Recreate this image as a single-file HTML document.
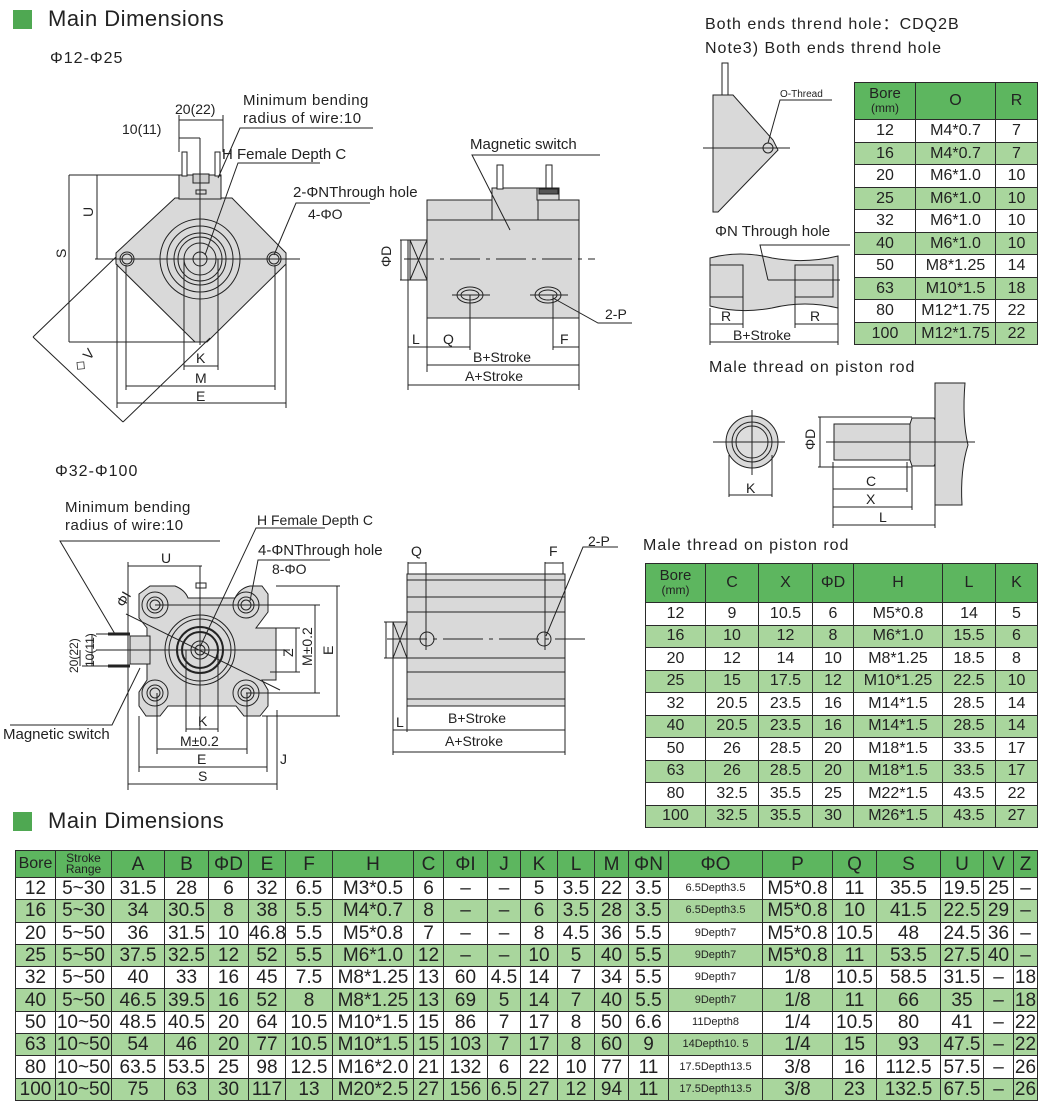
<!DOCTYPE html>
<html><head><meta charset="utf-8">
<style>
*{margin:0;padding:0;box-sizing:border-box}
body{width:1047px;height:1102px;background:#fff;position:relative;overflow:hidden;font-family:"Liberation Sans",sans-serif;color:#222}
.t{position:absolute;white-space:nowrap}
table{position:absolute;border-collapse:collapse;table-layout:fixed}
td{border:1px solid #2a2a2a;text-align:center;padding:0;overflow:hidden;white-space:nowrap;line-height:1}
tr.h td{background:#5db65f}
tr.g td{background:#a9d69d}
.bt td{font-family:"Liberation Sans Narrow","Liberation Sans",sans-serif;font-size:19px;height:22.3px}
.bt tr.h td{height:27px;font-size:19px}
.rt td{font-size:16px}
.sm{font-size:11px!important}
svg{position:absolute;left:0;top:0}
</style></head><body>

<div style="position:absolute;left:13px;top:10px;width:19px;height:19px;background:#4fa852"></div>
<div class="t" style="left:48px;top:6px;font-size:22px;letter-spacing:0.5px">Main Dimensions</div>
<div class="t" style="left:50px;top:50px;font-size:16px;letter-spacing:1px">Φ12-Φ25</div>
<div class="t" style="left:55px;top:463px;font-size:16px;letter-spacing:1px">Φ32-Φ100</div>
<div style="position:absolute;left:13px;top:812px;width:19px;height:19px;background:#4fa852"></div>
<div class="t" style="left:48px;top:808px;font-size:22px;letter-spacing:0.5px">Main Dimensions</div>

<div class="t" style="left:705px;top:10px;font-size:16px;letter-spacing:1px">Both ends thrend hole：CDQ2B</div>
<div class="t" style="left:705px;top:40px;font-size:16px;letter-spacing:1px">Note3) Both ends thrend hole</div>
<div class="t" style="left:709px;top:359px;font-size:16px;letter-spacing:1px">Male thread on piston rod</div>
<div class="t" style="left:643px;top:537px;font-size:16px;letter-spacing:1px">Male thread on piston rod</div>

<svg width="1047" height="850" viewBox="0 0 1047 850" font-family="Liberation Sans, sans-serif" fill="none" stroke="#222" stroke-width="1">
<!-- ===== Top-left front view ===== -->
<polygon points="175,198 232,198 286,253 286,264 207,342 195,342 116,264 116,253" fill="#d9d9d9"/>
<rect x="179" y="175" width="42" height="24" fill="#d9d9d9"/>
<rect x="182" y="152" width="5" height="24" fill="#fff"/>
<rect x="215" y="152" width="5" height="24" fill="#fff"/>
<rect x="193" y="174" width="16" height="9" fill="#ccc"/>
<rect x="196" y="190" width="10" height="4"/>
<circle cx="200" cy="259" r="40"/><circle cx="200" cy="259" r="33"/><circle cx="200" cy="259" r="26"/><circle cx="200" cy="259" r="22"/><circle cx="200" cy="259" r="16"/><circle cx="200" cy="259" r="7"/>
<circle cx="127" cy="259" r="7"/><circle cx="127" cy="259" r="5"/>
<circle cx="274" cy="259" r="7"/><circle cx="274" cy="259" r="5"/>
<line x1="95" y1="259" x2="300" y2="259"/><line x1="200" y1="138" x2="200" y2="345"/>
<!-- dims -->
<line x1="69" y1="175" x2="179" y2="175"/><line x1="69" y1="175" x2="69" y2="342"/><line x1="69" y1="342" x2="200" y2="342"/>
<line x1="97" y1="175" x2="97" y2="259"/>
<line x1="179" y1="115" x2="179" y2="152"/><line x1="223" y1="115" x2="223" y2="152"/>
<line x1="179" y1="120" x2="223" y2="120"/><line x1="179" y1="138" x2="200" y2="138"/>
<line x1="117" y1="264" x2="117" y2="408"/><line x1="286" y1="264" x2="286" y2="408"/>
<line x1="126" y1="265" x2="126" y2="390"/><line x1="275" y1="265" x2="275" y2="390"/>
<line x1="184" y1="259" x2="184" y2="370"/><line x1="218" y1="259" x2="218" y2="370"/>
<line x1="117" y1="403" x2="286" y2="403"/><line x1="126" y1="386" x2="275" y2="386"/><line x1="184" y1="366" x2="218" y2="366"/>
<line x1="33" y1="337" x2="116" y2="257"/><line x1="33" y1="337" x2="123" y2="422"/><line x1="123" y1="422" x2="210" y2="338"/>
<!-- leaders -->
<polyline points="218,178 240,128 373,128"/><polyline points="205,255 238,163 320,163"/><polyline points="274,255 296,203 370,203"/>
<!-- ===== Top side view ===== -->
<rect x="427" y="200" width="152" height="118" fill="#d9d9d9"/>
<line x1="427" y1="220" x2="579" y2="220"/>
<rect x="492" y="188" width="46" height="32" fill="#d9d9d9"/>
<rect x="497" y="165" width="6" height="24" fill="#fff"/>
<rect x="546" y="165" width="6" height="24" fill="#fff"/>
<rect x="537" y="188" width="22" height="12" fill="#d9d9d9"/>
<rect x="539" y="189" width="19" height="5" fill="#555"/>
<rect x="410" y="240" width="17" height="40" fill="#d9d9d9"/>
<line x1="410" y1="240" x2="427" y2="280"/><line x1="427" y1="240" x2="410" y2="280"/>
<line x1="404" y1="259" x2="595" y2="259" stroke-dasharray="30,6,4,6"/>
<ellipse cx="470" cy="295" rx="13" ry="8"/><ellipse cx="470" cy="295" rx="9" ry="5"/>
<ellipse cx="548" cy="295" rx="13" ry="8"/><ellipse cx="548" cy="295" rx="9" ry="5"/>
<line x1="452" y1="295" x2="490" y2="295"/><line x1="530" y1="295" x2="568" y2="295"/>
<line x1="470" y1="295" x2="470" y2="350"/><line x1="553" y1="295" x2="553" y2="350"/>
<line x1="408" y1="240" x2="408" y2="390"/><line x1="427" y1="318" x2="427" y2="372"/><line x1="579" y1="318" x2="579" y2="390"/>
<line x1="400" y1="240" x2="410" y2="240"/><line x1="400" y1="280" x2="410" y2="280"/><line x1="401" y1="240" x2="401" y2="280"/>
<line x1="408" y1="347" x2="470" y2="347"/><line x1="553" y1="347" x2="579" y2="347"/>
<line x1="427" y1="365" x2="579" y2="365"/><line x1="408" y1="385" x2="579" y2="385"/>
<polyline points="510,230 472,155 600,155"/><polyline points="553,298 598,323 632,323"/>
<!-- ===== Top right part ===== -->
<rect x="722" y="63" width="6" height="34" fill="#fff"/>
<polygon points="713,95 733,95 773,140 778,150 718,212 713,212" fill="#d9d9d9"/>
<circle cx="768" cy="148" r="5"/><line x1="703" y1="148" x2="790" y2="148"/>
<polyline points="768,143 780,100 832,100"/>
<path d="M710,258 Q740,250 772,258 Q805,264 838,256 L838,308 Q805,300 772,308 Q740,314 710,306 Z" fill="#d9d9d9"/>
<rect x="710" y="265" width="33" height="32" fill="#d9d9d9"/><rect x="795" y="265" width="38" height="32" fill="#d9d9d9"/>
<line x1="768" y1="280" x2="840" y2="280"/><polyline points="768,280 760,245 850,245"/>
<line x1="710" y1="308" x2="710" y2="345"/><line x1="743" y1="297" x2="743" y2="328"/><line x1="795" y1="297" x2="795" y2="328"/><line x1="838" y1="308" x2="838" y2="345"/>
<line x1="710" y1="324" x2="743" y2="324"/><line x1="795" y1="324" x2="838" y2="324"/><line x1="710" y1="342" x2="838" y2="342"/>
<!-- male thread -->
<circle cx="752" cy="442" r="26" fill="#d9d9d9"/><circle cx="752" cy="442" r="20"/><circle cx="752" cy="442" r="16" fill="#ddd"/>
<line x1="713" y1="442" x2="785" y2="442"/><line x1="752" y1="410" x2="752" y2="475"/>
<line x1="729" y1="455" x2="729" y2="497"/><line x1="772" y1="455" x2="772" y2="497"/><line x1="729" y1="495" x2="772" y2="495"/>
<rect x="834" y="424" width="78" height="36" fill="#d9d9d9"/>
<polygon points="912,418 934,418 940,430 940,454 934,466 912,466 910,460 910,424" fill="#d9d9d9"/>
<path d="M935,383 L965,383 Q962,420 968,445 Q960,470 962,505 L935,505 Z" fill="#d9d9d9"/>
<line x1="826" y1="442" x2="975" y2="442"/>
<line x1="818" y1="417" x2="912" y2="417"/><line x1="818" y1="467" x2="912" y2="467"/><line x1="820" y1="417" x2="820" y2="467"/>
<line x1="833" y1="462" x2="833" y2="528"/><line x1="907" y1="462" x2="907" y2="492"/><line x1="912" y1="466" x2="912" y2="510"/><line x1="935" y1="505" x2="935" y2="528"/>
<line x1="833" y1="489" x2="907" y2="489"/><line x1="833" y1="507" x2="912" y2="507"/><line x1="833" y1="525" x2="935" y2="525"/>
<!-- ===== Bottom-left front ===== -->
<path d="M150,586 L175,586 Q185,590 188,598 L235,598 Q240,588 250,586 L262,586 L268,594 L268,612 L256,628 L276,628 L276,680 L262,680 L268,690 L268,706 L260,716 L244,716 L236,706 L168,706 L160,716 L146,716 L139,706 L139,692 L147,680 L147,628 L139,618 L139,594 Z" fill="#d9d9d9"/>
<circle cx="155" cy="605" r="13"/><circle cx="155" cy="605" r="8"/><circle cx="155" cy="605" r="5"/>
<circle cx="246" cy="605" r="13"/><circle cx="246" cy="605" r="8"/><circle cx="246" cy="605" r="5"/>
<circle cx="155" cy="693" r="13"/><circle cx="155" cy="693" r="8"/><circle cx="155" cy="693" r="5"/>
<circle cx="246" cy="693" r="13"/><circle cx="246" cy="693" r="8"/><circle cx="246" cy="693" r="5"/>
<circle cx="200" cy="650" r="35"/><circle cx="200" cy="650" r="31"/><circle cx="200" cy="650" r="23" stroke-width="2"/><circle cx="200" cy="650" r="18" stroke-width="2"/><circle cx="200" cy="650" r="9"/><circle cx="200" cy="650" r="5"/>
<rect x="196" y="583" width="10" height="5"/>
<rect x="130" y="636" width="20" height="28" fill="#d9d9d9"/>
<line x1="108" y1="634" x2="130" y2="634" stroke-width="3"/><line x1="108" y1="666" x2="130" y2="666" stroke-width="3"/>
<line x1="125" y1="650" x2="290" y2="650"/><line x1="200" y1="566" x2="200" y2="730"/>
<line x1="155" y1="605" x2="320" y2="605"/><line x1="246" y1="693" x2="320" y2="693"/>
<line x1="276" y1="586" x2="340" y2="586"/><line x1="262" y1="716" x2="340" y2="716"/>
<line x1="270" y1="628" x2="300" y2="628"/><line x1="270" y1="672" x2="300" y2="672"/>
<line x1="337" y1="586" x2="337" y2="716"/><line x1="315" y1="605" x2="315" y2="693"/><line x1="296" y1="628" x2="296" y2="672"/>
<line x1="128" y1="562" x2="128" y2="790"/><line x1="277" y1="710" x2="277" y2="790"/><line x1="139" y1="716" x2="139" y2="772"/><line x1="267" y1="716" x2="267" y2="772"/>
<line x1="157" y1="693" x2="157" y2="754"/><line x1="247" y1="693" x2="247" y2="754"/><line x1="186" y1="650" x2="186" y2="732"/><line x1="218" y1="650" x2="218" y2="732"/>
<line x1="128" y1="566" x2="202" y2="566"/><line x1="186" y1="729" x2="218" y2="729"/><line x1="157" y1="749" x2="247" y2="749"/><line x1="139" y1="767" x2="267" y2="767"/><line x1="128" y1="784" x2="277" y2="784"/>
<line x1="96" y1="634" x2="108" y2="634"/><line x1="82" y1="666" x2="108" y2="666"/><line x1="96" y1="650" x2="125" y2="650"/><line x1="92" y1="634" x2="92" y2="666"/><line x1="80" y1="650" x2="80" y2="666"/>
<polyline points="115,634 60,541 220,541"/><polyline points="200,647 256,528 325,528"/><polyline points="250,601 258,560 330,560"/><polyline points="140,668 112,725 10,725"/>
<line x1="126" y1="614" x2="280" y2="690"/>
<!-- ===== Bottom side view ===== -->
<rect x="407" y="574" width="158" height="132" fill="#d9d9d9"/>
<line x1="407" y1="580" x2="565" y2="580"/><line x1="407" y1="597" x2="565" y2="597"/><line x1="407" y1="612" x2="565" y2="612"/><line x1="407" y1="658" x2="565" y2="658"/><line x1="407" y1="672" x2="565" y2="672"/><line x1="407" y1="699" x2="565" y2="699"/>
<rect x="393" y="622" width="14" height="36" fill="#d9d9d9"/><line x1="393" y1="622" x2="407" y2="658"/><line x1="407" y1="622" x2="393" y2="658"/>
<line x1="387" y1="639" x2="585" y2="639" stroke-dasharray="40,6,4,6"/>
<circle cx="427" cy="639" r="7"/><circle cx="544" cy="639" r="7"/>
<line x1="408" y1="562" x2="408" y2="574"/><line x1="426" y1="562" x2="426" y2="650"/><line x1="545" y1="562" x2="545" y2="650"/><line x1="563" y1="562" x2="563" y2="574"/>
<line x1="408" y1="563" x2="426" y2="563"/><line x1="545" y1="563" x2="563" y2="563"/>
<polyline points="546,636 583,547 618,547"/>
<line x1="393" y1="658" x2="393" y2="755"/><line x1="407" y1="706" x2="407" y2="732"/><line x1="565" y1="706" x2="565" y2="755"/>
<line x1="384" y1="622" x2="393" y2="622"/><line x1="384" y1="658" x2="393" y2="658"/><line x1="386" y1="622" x2="386" y2="658"/>
<line x1="393" y1="730" x2="565" y2="730"/><line x1="393" y1="752" x2="565" y2="752"/>

<g fill="#222" stroke="none" font-size="14">
<text x="175" y="114">20(22)</text><text x="122" y="134">10(11)</text>
<text x="243" y="105" font-size="15" letter-spacing="0.5">Minimum bending</text>
<text x="243" y="123" font-size="15" letter-spacing="0.5">radius of wire:10</text>
<text x="222" y="159" font-size="15">H Female Depth C</text>
<text x="293" y="197" font-size="15">2-ΦNThrough hole</text>
<text x="308" y="219">4-ΦO</text>
<text transform="translate(93,217) rotate(-90)">U</text>
<text transform="translate(66,258) rotate(-90)">S</text>
<text x="196" y="363">K</text><text x="195" y="383">M</text><text x="196" y="401">E</text>
<text transform="translate(80,372) rotate(-50)">◇ V</text>
<text x="470" y="149" font-size="15">Magnetic switch</text>
<text transform="translate(391,267) rotate(-90)">ΦD</text>
<text x="412" y="344">L</text><text x="443" y="344">Q</text><text x="560" y="344">F</text>
<text x="473" y="362">B+Stroke</text><text x="465" y="381">A+Stroke</text>
<text x="605" y="319">2-P</text>
<text x="780" y="97" font-size="10">O-Thread</text>
<text x="715" y="236" font-size="15">ΦN Through hole</text>
<text x="721" y="321">R</text><text x="810" y="321">R</text><text x="733" y="340">B+Stroke</text>
<text transform="translate(815,450) rotate(-90)">ΦD</text>
<text x="746" y="493">K</text><text x="866" y="486">C</text><text x="866" y="504">X</text><text x="879" y="522">L</text>
<text x="65" y="512" font-size="15" letter-spacing="0.5">Minimum bending</text>
<text x="65" y="530" font-size="15" letter-spacing="0.5">radius of wire:10</text>
<text x="257" y="525">H Female Depth C</text>
<text x="258" y="555" font-size="15">4-ΦNThrough hole</text>
<text x="272" y="574">8-ΦO</text>
<text x="3" y="739" font-size="15">Magnetic switch</text>
<text transform="translate(124,608) rotate(-60)">ΦI</text>
<text x="161" y="563">U</text>
<text transform="translate(78,673) rotate(-90)" font-size="12">20(22)</text>
<text transform="translate(94,667) rotate(-90)" font-size="12">10(11)</text>
<text transform="translate(293,657) rotate(-90)">Z</text>
<text transform="translate(312,666) rotate(-90)">M±0.2</text>
<text transform="translate(333,655) rotate(-90)">E</text>
<text x="198" y="726">K</text><text x="180" y="746">M±0.2</text><text x="197" y="764">E</text><text x="198" y="781">S</text><text x="280" y="764">J</text>
<text x="411" y="556">Q</text><text x="549" y="556">F</text><text x="588" y="546">2-P</text>
<text x="396" y="727">L</text><text x="448" y="723">B+Stroke</text><text x="445" y="746">A+Stroke</text>
</g>
</svg>

<!-- top-right O/R table -->
<table class="rt" style="left:854px;top:82px;width:183px">
<colgroup><col style="width:61px"><col style="width:80px"><col style="width:42px"></colgroup>
<tr class="h"><td style="height:37px;font-size:15px;line-height:0.95">Bore<br><span style="font-size:12px">(mm)</span></td><td>O</td><td>R</td></tr>
<tr><td style="height:23px">12</td><td>M4*0.7</td><td>7</td></tr>
<tr class="g"><td style="height:22px">16</td><td>M4*0.7</td><td>7</td></tr>
<tr><td style="height:23px">20</td><td>M6*1.0</td><td>10</td></tr>
<tr class="g"><td style="height:22px">25</td><td>M6*1.0</td><td>10</td></tr>
<tr><td style="height:23px">32</td><td>M6*1.0</td><td>10</td></tr>
<tr class="g"><td style="height:22px">40</td><td>M6*1.0</td><td>10</td></tr>
<tr><td style="height:23px">50</td><td>M8*1.25</td><td>14</td></tr>
<tr class="g"><td style="height:22px">63</td><td>M10*1.5</td><td>18</td></tr>
<tr><td style="height:23px">80</td><td>M12*1.75</td><td>22</td></tr>
<tr class="g"><td style="height:22px">100</td><td>M12*1.75</td><td>22</td></tr>
</table>

<!-- middle-right table -->
<table class="rt" style="left:645px;top:563px;width:392px">
<colgroup><col style="width:60px"><col style="width:53px"><col style="width:54px"><col style="width:41px"><col style="width:89px"><col style="width:53px"><col style="width:42px"></colgroup>
<tr class="h"><td style="height:39px;font-size:15px;line-height:0.95">Bore<br><span style="font-size:12px">(mm)</span></td><td>C</td><td>X</td><td>ΦD</td><td>H</td><td>L</td><td>K</td></tr>
<tr><td style="height:22.5px">12</td><td>9</td><td>10.5</td><td>6</td><td>M5*0.8</td><td>14</td><td>5</td></tr>
<tr class="g"><td style="height:22.5px">16</td><td>10</td><td>12</td><td>8</td><td>M6*1.0</td><td>15.5</td><td>6</td></tr>
<tr><td style="height:22.5px">20</td><td>12</td><td>14</td><td>10</td><td>M8*1.25</td><td>18.5</td><td>8</td></tr>
<tr class="g"><td style="height:22.5px">25</td><td>15</td><td>17.5</td><td>12</td><td>M10*1.25</td><td>22.5</td><td>10</td></tr>
<tr><td style="height:22.5px">32</td><td>20.5</td><td>23.5</td><td>16</td><td>M14*1.5</td><td>28.5</td><td>14</td></tr>
<tr class="g"><td style="height:22.5px">40</td><td>20.5</td><td>23.5</td><td>16</td><td>M14*1.5</td><td>28.5</td><td>14</td></tr>
<tr><td style="height:22.5px">50</td><td>26</td><td>28.5</td><td>20</td><td>M18*1.5</td><td>33.5</td><td>17</td></tr>
<tr class="g"><td style="height:22.5px">63</td><td>26</td><td>28.5</td><td>20</td><td>M18*1.5</td><td>33.5</td><td>17</td></tr>
<tr><td style="height:22.5px">80</td><td>32.5</td><td>35.5</td><td>25</td><td>M22*1.5</td><td>43.5</td><td>22</td></tr>
<tr class="g"><td style="height:22.5px">100</td><td>32.5</td><td>35.5</td><td>30</td><td>M26*1.5</td><td>43.5</td><td>27</td></tr>
</table>

<!-- bottom main table -->
<table class="bt" style="left:15px;top:850px;width:1022px">
<colgroup><col style="width:40px"><col style="width:56px"><col style="width:53px"><col style="width:44px"><col style="width:40px"><col style="width:37px"><col style="width:47px"><col style="width:81px"><col style="width:30px"><col style="width:44px"><col style="width:33px"><col style="width:37px"><col style="width:37px"><col style="width:34px"><col style="width:40px"><col style="width:94px"><col style="width:70px"><col style="width:44px"><col style="width:64px"><col style="width:43px"><col style="width:30px"><col style="width:24px"></colgroup>
<tr class="h"><td style="font-size:16px">Bore</td><td style="font-size:12px;line-height:0.95">Stroke<br>Range</td><td>A</td><td>B</td><td>ΦD</td><td>E</td><td>F</td><td>H</td><td>C</td><td>ΦI</td><td>J</td><td>K</td><td>L</td><td>M</td><td>ΦN</td><td>ΦO</td><td>P</td><td>Q</td><td>S</td><td>U</td><td>V</td><td>Z</td></tr>
<tr><td>12</td><td>5~30</td><td>31.5</td><td>28</td><td>6</td><td>32</td><td>6.5</td><td>M3*0.5</td><td>6</td><td>–</td><td>–</td><td>5</td><td>3.5</td><td>22</td><td>3.5</td><td class="sm">6.5Depth3.5</td><td>M5*0.8</td><td>11</td><td>35.5</td><td>19.5</td><td>25</td><td>–</td></tr>
<tr class="g"><td>16</td><td>5~30</td><td>34</td><td>30.5</td><td>8</td><td>38</td><td>5.5</td><td>M4*0.7</td><td>8</td><td>–</td><td>–</td><td>6</td><td>3.5</td><td>28</td><td>3.5</td><td class="sm">6.5Depth3.5</td><td>M5*0.8</td><td>10</td><td>41.5</td><td>22.5</td><td>29</td><td>–</td></tr>
<tr><td>20</td><td>5~50</td><td>36</td><td>31.5</td><td>10</td><td>46.8</td><td>5.5</td><td>M5*0.8</td><td>7</td><td>–</td><td>–</td><td>8</td><td>4.5</td><td>36</td><td>5.5</td><td class="sm">9Depth7</td><td>M5*0.8</td><td>10.5</td><td>48</td><td>24.5</td><td>36</td><td>–</td></tr>
<tr class="g"><td>25</td><td>5~50</td><td>37.5</td><td>32.5</td><td>12</td><td>52</td><td>5.5</td><td>M6*1.0</td><td>12</td><td>–</td><td>–</td><td>10</td><td>5</td><td>40</td><td>5.5</td><td class="sm">9Depth7</td><td>M5*0.8</td><td>11</td><td>53.5</td><td>27.5</td><td>40</td><td>–</td></tr>
<tr><td>32</td><td>5~50</td><td>40</td><td>33</td><td>16</td><td>45</td><td>7.5</td><td>M8*1.25</td><td>13</td><td>60</td><td>4.5</td><td>14</td><td>7</td><td>34</td><td>5.5</td><td class="sm">9Depth7</td><td>1/8</td><td>10.5</td><td>58.5</td><td>31.5</td><td>–</td><td>18</td></tr>
<tr class="g"><td>40</td><td>5~50</td><td>46.5</td><td>39.5</td><td>16</td><td>52</td><td>8</td><td>M8*1.25</td><td>13</td><td>69</td><td>5</td><td>14</td><td>7</td><td>40</td><td>5.5</td><td class="sm">9Depth7</td><td>1/8</td><td>11</td><td>66</td><td>35</td><td>–</td><td>18</td></tr>
<tr><td>50</td><td>10~50</td><td>48.5</td><td>40.5</td><td>20</td><td>64</td><td>10.5</td><td>M10*1.5</td><td>15</td><td>86</td><td>7</td><td>17</td><td>8</td><td>50</td><td>6.6</td><td class="sm">11Depth8</td><td>1/4</td><td>10.5</td><td>80</td><td>41</td><td>–</td><td>22</td></tr>
<tr class="g"><td>63</td><td>10~50</td><td>54</td><td>46</td><td>20</td><td>77</td><td>10.5</td><td>M10*1.5</td><td>15</td><td>103</td><td>7</td><td>17</td><td>8</td><td>60</td><td>9</td><td class="sm">14Depth10. 5</td><td>1/4</td><td>15</td><td>93</td><td>47.5</td><td>–</td><td>22</td></tr>
<tr><td>80</td><td>10~50</td><td>63.5</td><td>53.5</td><td>25</td><td>98</td><td>12.5</td><td>M16*2.0</td><td>21</td><td>132</td><td>6</td><td>22</td><td>10</td><td>77</td><td>11</td><td class="sm">17.5Depth13.5</td><td>3/8</td><td>16</td><td>112.5</td><td>57.5</td><td>–</td><td>26</td></tr>
<tr class="g"><td>100</td><td>10~50</td><td>75</td><td>63</td><td>30</td><td>117</td><td>13</td><td>M20*2.5</td><td>27</td><td>156</td><td>6.5</td><td>27</td><td>12</td><td>94</td><td>11</td><td class="sm">17.5Depth13.5</td><td>3/8</td><td>23</td><td>132.5</td><td>67.5</td><td>–</td><td>26</td></tr>
</table>
</body></html>
